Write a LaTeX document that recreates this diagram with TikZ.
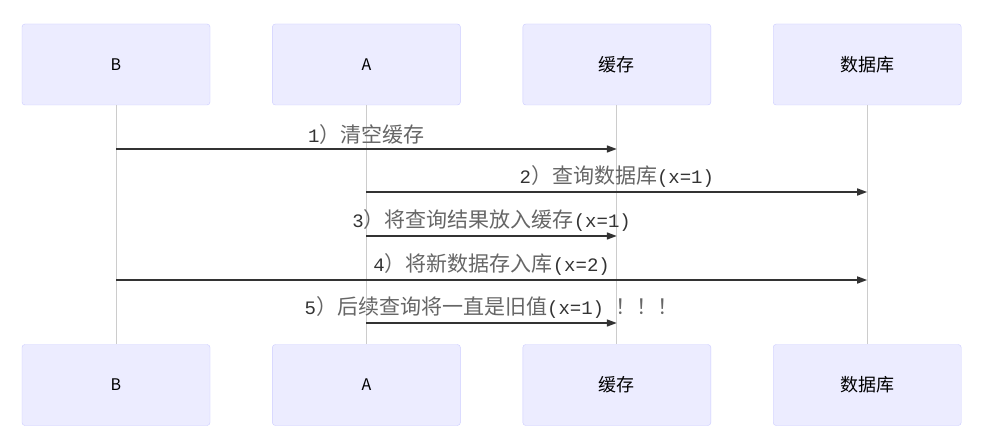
\documentclass[tikz,border=0pt]{standalone}
\usepackage{fontspec}
\setmainfont{Liberation Mono}
\newfontfamily\cjk{Noto Sans CJK SC}
\usetikzlibrary{arrows.meta}
\usetikzlibrary{positioning}
\definecolor{actorfill}{HTML}{ECECFF}
\definecolor{actorline}{HTML}{CCCCFF}
\definecolor{msgline}{HTML}{333333}
\definecolor{lifeline}{HTML}{CCCCCC}
\definecolor{zhtext}{HTML}{666666}
\newcommand{\zh}[1]{{\cjk\fontsize{21}{21}\selectfont\color{zhtext}#1}}
\newcommand{\bigzh}[1]{{\fontsize{18}{18}\selectfont#1}}
\begin{document}
\begin{tikzpicture}[x=1pt,y=-1pt,node distance=62pt,
    actor/.style={draw=actorline,fill=actorfill,rounded corners=3pt,minimum width=188pt,
                  minimum height=81pt,inner sep=0pt,font=\cjk\fontsize{16}{16}\selectfont},
    life/.style={draw=lifeline,line width=0.8pt},
    msg/.style={draw=msgline,line width=1.6pt,-{Triangle[length=10pt,width=7pt]}},
    lbl/.style={text=msgline,font=\fontsize{19}{19}\selectfont,above=4pt,inner sep=0pt}]
    \useasboundingbox (0,0) rectangle (987,441);
    \fill[white] (0,0) rectangle (987,441);
    % actors on top
    \node[actor] (B)                   at (116,64.5) {B};
    \node[actor] (A)  [right=of B]  {A};
    \node[actor] (C)  [right=of A]  {\bigzh{缓存}};
    \node[actor] (D)  [right=of C]  {\bigzh{数据库}};
    % actors below
    \node[actor] (Bb)                  at (116,385) {B};
    \node[actor] (Ab) [right=of Bb] {A};
    \node[actor] (Cb) [right=of Ab] {\bigzh{缓存}};
    \node[actor] (Db) [right=of Cb] {\bigzh{数据库}};
    % lifelines
    \foreach \p in {B,A,C,D}
        \draw[life] (\p.south) -- (\p b.north);
    % messages
    \draw[msg] (B |- 0,149) -- node[lbl] {1\zh{）清空缓存}} (C |- 0,149);
    \draw[msg] (A |- 0,192) -- node[lbl] {2\zh{）查询数据库}(x=1)} (D |- 0,192);
    \draw[msg] (A |- 0,236) -- node[lbl] {3\zh{）将查询结果放入缓存}(x=1)} (C |- 0,236);
    \draw[msg] (B |- 0,280) -- node[lbl] {4\zh{）将新数据存入库}(x=2)} (D |- 0,280);
    \draw[msg] (A |- 0,323) -- node[lbl] {5\zh{）后续查询将一直是旧值}(x=1) \zh{！！！}} (C |- 0,323);
\end{tikzpicture}
\end{document}
